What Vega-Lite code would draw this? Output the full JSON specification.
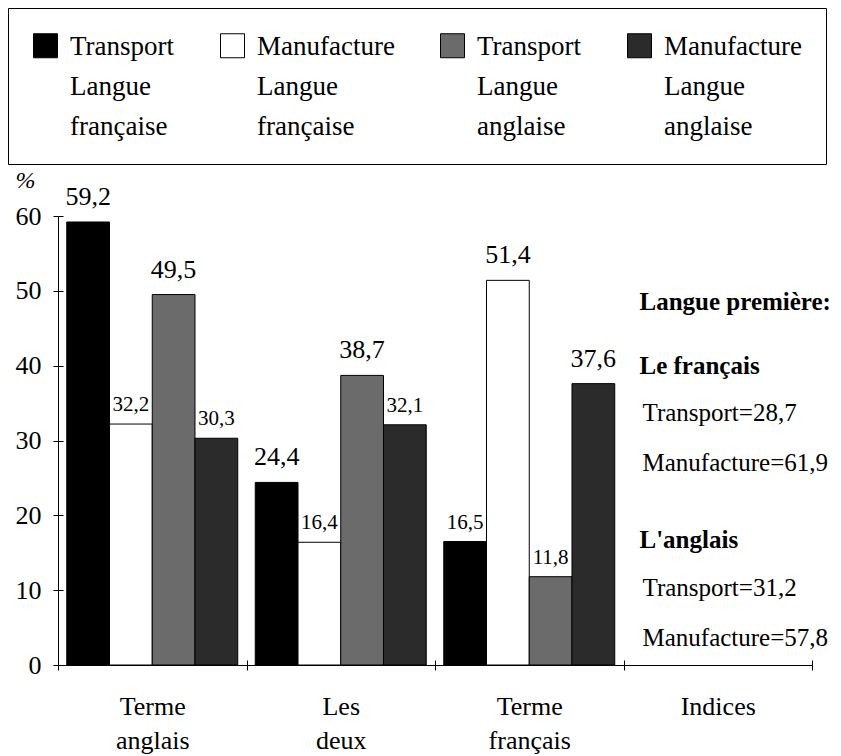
{
  "$schema": "https://vega.github.io/schema/vega-lite/v6.json",
  "width": 754,
  "height": 449,
  "autosize": {"type": "none"},
  "padding": {"left": 58, "top": 216, "right": 29, "bottom": 91},
  "background": "white",
  "config": {
    "view": {"stroke": null},
    "font": "Times New Roman, Liberation Serif, serif",
    "locale": {"number": {"decimal": ",", "thousands": " ", "grouping": [3], "currency": ["", " €"]}},
    "axis": {"domainColor": "black", "tickColor": "black", "labelColor": "black", "titleColor": "black", "labelFont": "Times New Roman, Liberation Serif, serif", "titleFont": "Times New Roman, Liberation Serif, serif", "grid": false, "domainWidth": 1, "tickWidth": 1},
    "legend": {"strokeColor": "black", "strokeWidth": 1, "labelFont": "Times New Roman, Liberation Serif, serif"},
    "text": {"font": "Times New Roman, Liberation Serif, serif"}
  },
  "datasets": {
    "barres": [
      {"cat": "Terme|anglais", "serie": "Transport|Langue|française", "ordre": 1, "valeur": 59.2},
      {"cat": "Terme|anglais", "serie": "Manufacture|Langue|française", "ordre": 2, "valeur": 32.2},
      {"cat": "Terme|anglais", "serie": "Transport|Langue|anglaise", "ordre": 3, "valeur": 49.5},
      {"cat": "Terme|anglais", "serie": "Manufacture|Langue|anglaise", "ordre": 4, "valeur": 30.3},
      {"cat": "Les|deux", "serie": "Transport|Langue|française", "ordre": 1, "valeur": 24.4},
      {"cat": "Les|deux", "serie": "Manufacture|Langue|française", "ordre": 2, "valeur": 16.4},
      {"cat": "Les|deux", "serie": "Transport|Langue|anglaise", "ordre": 3, "valeur": 38.7},
      {"cat": "Les|deux", "serie": "Manufacture|Langue|anglaise", "ordre": 4, "valeur": 32.1},
      {"cat": "Terme|français", "serie": "Transport|Langue|française", "ordre": 1, "valeur": 16.5},
      {"cat": "Terme|français", "serie": "Manufacture|Langue|française", "ordre": 2, "valeur": 51.4},
      {"cat": "Terme|français", "serie": "Transport|Langue|anglaise", "ordre": 3, "valeur": 11.8},
      {"cat": "Terme|français", "serie": "Manufacture|Langue|anglaise", "ordre": 4, "valeur": 37.6}
    ],
    "notes": [
      {"cat": "Indices", "role": "titre", "texte": "Langue première:", "pos": 48.5},
      {"cat": "Indices", "role": "titre", "texte": "Le français", "pos": 39.9},
      {"cat": "Indices", "role": "valeur", "texte": "Transport=28,7", "pos": 33.7},
      {"cat": "Indices", "role": "valeur", "texte": "Manufacture=61,9", "pos": 27.0},
      {"cat": "Indices", "role": "titre", "texte": "L'anglais", "pos": 16.7},
      {"cat": "Indices", "role": "valeur", "texte": "Transport=31,2", "pos": 10.3},
      {"cat": "Indices", "role": "valeur", "texte": "Manufacture=57,8", "pos": 3.6}
    ]
  },
  "layer": [
    {
      "data": {"name": "barres"},
      "mark": {"type": "bar", "stroke": "black", "strokeWidth": 1},
      "encoding": {
        "x": {
          "field": "cat", "type": "nominal", "sort": null,
          "scale": {"domain": ["Terme|anglais", "Les|deux", "Terme|français", "Indices"], "paddingInner": 0, "paddingOuter": 0},
          "axis": {"orient": "bottom", "title": null, "labelExpr": "split(datum.label, '|')", "labelFontSize": 26, "labelLineHeight": 34, "labelPadding": 23, "tickSize": 5, "tickBand": "extent", "labelAngle": 0}
        },
        "xOffset": {
          "field": "serie", "type": "nominal",
          "scale": {"domain": ["Transport|Langue|française", "Manufacture|Langue|française", "Transport|Langue|anglaise", "Manufacture|Langue|anglaise"], "paddingInner": 0, "paddingOuter": 0.205}
        },
        "y": {
          "field": "valeur", "type": "quantitative",
          "scale": {"domain": [0, 60], "nice": false},
          "axis": {"orient": "left", "title": "%", "titleAngle": 0, "titleX": -43, "titleY": -36, "titleAlign": "left", "titleBaseline": "middle", "titleFontSize": 24, "titleFontWeight": "normal", "titleFontStyle": "italic", "values": [0, 10, 20, 30, 40, 50, 60], "labelFontSize": 26, "tickSize": 5, "labelPadding": 12}
        },
        "fill": {
          "field": "serie", "type": "nominal",
          "scale": {"domain": ["Transport|Langue|française", "Manufacture|Langue|française", "Transport|Langue|anglaise", "Manufacture|Langue|anglaise"], "range": ["#000000", "#ffffff", "#6b6b6b", "#2b2b2b"]},
          "legend": {
            "title": null, "orient": "none", "legendX": -50, "legendY": -208,
            "direction": "horizontal", "columns": 4, "columnPadding": 43,
            "labelExpr": "split(datum.label, '|')", "labelFontSize": 27, "labelColor": "black", "labelLimit": 300, "labelOffset": 11, "labelBaseline": "top",
            "symbolType": "square", "symbolSize": 576, "symbolStrokeColor": "black", "symbolStrokeWidth": 1,
            "padding": 24, "strokeColor": "black",
            "encode": {"labels": {"update": {"lineHeight": {"value": 40}, "dy": {"value": -12}}}}
          }
        }
      }
    },
    {
      "data": {"name": "barres"},
      "transform": [
        {"window": [{"op": "lag", "field": "valeur", "as": "avant"}, {"op": "lead", "field": "valeur", "as": "apres"}], "groupby": ["cat"], "sort": [{"field": "ordre"}]},
        {"filter": "max(datum.avant || 0, datum.apres || 0) <= datum.valeur"}
      ],
      "mark": {"type": "text", "baseline": "alphabetic", "dy": -17, "fontSize": 26, "color": "black"},
      "encoding": {
        "x": {"field": "cat", "type": "nominal", "axis": null},
        "xOffset": {"field": "serie", "type": "nominal"},
        "y": {"field": "valeur", "type": "quantitative", "axis": null},
        "text": {"field": "valeur", "type": "quantitative", "format": ".1f"}
      }
    },
    {
      "data": {"name": "barres"},
      "transform": [
        {"window": [{"op": "lag", "field": "valeur", "as": "avant"}, {"op": "lead", "field": "valeur", "as": "apres"}], "groupby": ["cat"], "sort": [{"field": "ordre"}]},
        {"filter": "max(datum.avant || 0, datum.apres || 0) > datum.valeur"}
      ],
      "mark": {"type": "text", "baseline": "alphabetic", "dy": -13, "fontSize": 21, "color": "black"},
      "encoding": {
        "x": {"field": "cat", "type": "nominal", "axis": null},
        "xOffset": {"field": "serie", "type": "nominal"},
        "y": {"field": "valeur", "type": "quantitative", "axis": null},
        "text": {"field": "valeur", "type": "quantitative", "format": ".1f"}
      }
    },
    {
      "data": {"name": "notes"},
      "transform": [{"filter": "datum.role == 'titre'"}],
      "mark": {"type": "text", "align": "left", "baseline": "middle", "dx": 16, "fontSize": 25, "fontWeight": "bold", "color": "black"},
      "encoding": {
        "x": {"field": "cat", "type": "nominal", "bandPosition": 0, "axis": null},
        "y": {"field": "pos", "type": "quantitative", "axis": null},
        "text": {"field": "texte", "type": "nominal"}
      }
    },
    {
      "data": {"name": "notes"},
      "transform": [{"filter": "datum.role == 'valeur'"}],
      "mark": {"type": "text", "align": "left", "baseline": "middle", "dx": 19, "fontSize": 25, "color": "black"},
      "encoding": {
        "x": {"field": "cat", "type": "nominal", "bandPosition": 0, "axis": {"orient": "bottom", "title": null, "labels": false, "domain": false, "tickSize": -5, "tickBand": "extent"}},
        "y": {"field": "pos", "type": "quantitative", "axis": {"orient": "left", "title": null, "labels": false, "domain": false, "tickSize": -5, "values": [0, 10, 20, 30, 40, 50, 60]}},
        "text": {"field": "texte", "type": "nominal"}
      }
    }
  ],
  "resolve": {"axis": {"x": "independent", "y": "independent"}}
}
